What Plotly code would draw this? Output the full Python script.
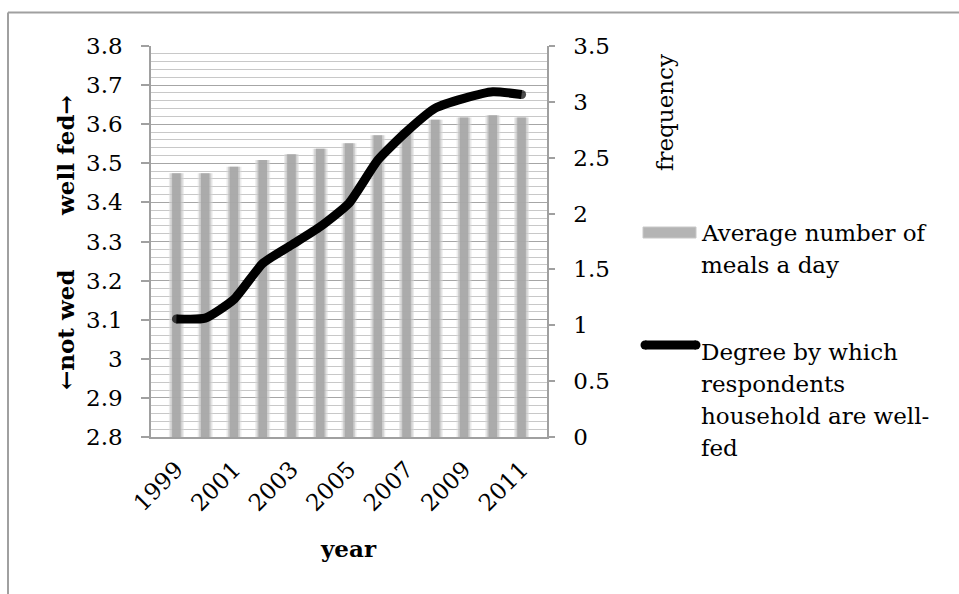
import plotly.graph_objects as go

# Survey years
years = [str(y) for y in range(1999, 2012)]

# Average number of meals a day (right axis, "frequency")
meals_per_day = [2.36, 2.36, 2.42, 2.48, 2.53, 2.58, 2.63, 2.70, 2.75, 2.84, 2.86, 2.88, 2.86]

# Degree by which respondents' households are well-fed (left axis)
well_fed_degree = [3.102, 3.104, 3.152, 3.244, 3.291, 3.338, 3.398, 3.508, 3.581, 3.641, 3.666, 3.683, 3.676]

year_ticks = years[::2]

FONT = "DejaVu Serif"
AXIS_GRAY = "#a0a0a0"
FS = 23

fig = go.Figure()

# Soft-edged bars: layered widths, lighter on the outside
for width, color in [(0.52, "rgba(215,215,215,0.5)"),
                     (0.42, "rgba(190,190,190,0.6)"),
                     (0.30, "rgba(165,165,165,0.85)")]:
    fig.add_trace(go.Bar(
        x=years, y=meals_per_day, width=width,
        marker=dict(color=color, line=dict(width=0)),
        yaxis="y", showlegend=False, hoverinfo="skip",
    ))

# Well-fed line with rounded ends
ends = [9] + [0] * (len(years) - 2) + [9]
fig.add_trace(go.Scatter(
    x=years, y=well_fed_degree, yaxis="y2",
    mode="lines+markers",
    line=dict(color="black", width=9, shape="spline", smoothing=0.5),
    marker=dict(size=ends, color="black", line=dict(width=0)),
    showlegend=False,
))

fig.update_layout(
    width=959, height=594, autosize=False,
    margin=dict(l=151, r=412, t=46, b=157),
    paper_bgcolor="white", plot_bgcolor="white",
    barmode="overlay",
    font=dict(family=FONT, size=FS, color="black"),
    xaxis=dict(
        type="category", tickmode="array", tickvals=year_ticks,
        tickangle=-45, showgrid=False, ticks="",
        showline=True, linecolor=AXIS_GRAY, linewidth=1.5,
        tickfont=dict(family=FONT, size=FS), ticklabelstandoff=8,
    ),
    yaxis=dict(
        side="right", range=[0, 3.5], dtick=0.5, tickmode="linear", tick0=0,
        showgrid=False, zeroline=False,
        ticks="outside", ticklen=6, tickcolor=AXIS_GRAY, tickwidth=1.5,
        showline=True, linecolor=AXIS_GRAY, linewidth=1.5,
        tickfont=dict(family=FONT, size=FS), ticklabelstandoff=14,
    ),
    yaxis2=dict(
        overlaying="y", side="left", range=[2.8, 3.8], dtick=0.1, tick0=2.8,
        tickmode="linear",
        showgrid=True, gridcolor="#a6a6a6", gridwidth=1.2, zeroline=False,
        minor=dict(dtick=0.02, tick0=2.8, showgrid=True, gridcolor="#c8c8c8",
                   gridwidth=1.2, ticks=""),
        ticks="outside", ticklen=8, tickcolor=AXIS_GRAY, tickwidth=1.5,
        showline=True, linecolor=AXIS_GRAY, linewidth=1.5,
        tickfont=dict(family=FONT, size=FS), ticklabelstandoff=14,
    ),
)

# Chart frame (paper coords relative to the plot area)
PX = lambda px: (px - 151) / 396.0
PY = lambda py: (437 - py) / 391.0
fig.add_shape(type="line", xref="paper", yref="paper",
              x0=PX(8), x1=PX(8), y0=PY(12.5), y1=PY(600),
              line=dict(color=AXIS_GRAY, width=2))
fig.add_shape(type="line", xref="paper", yref="paper",
              x0=PX(8), x1=PX(970), y0=PY(12.5), y1=PY(12.5),
              line=dict(color=AXIS_GRAY, width=2))

anns = []
# Left axis title in two parts
anns.append(dict(text="<b>well fed→</b>", x=PX(65), y=PY(156), textangle=-90))
anns.append(dict(text="<b>←not wed</b>", x=PX(65), y=PY(330), textangle=-90))
# Right axis title
anns.append(dict(text="frequency", x=PX(665), y=PY(113), textangle=-90))
# X axis title
anns.append(dict(text="<b>year</b>", x=PX(348), y=PY(548)))
for a in anns:
    a.update(xref="paper", yref="paper", showarrow=False,
             xanchor="center", yanchor="middle",
             font=dict(family=FONT, size=FS, color="black"))
    fig.add_annotation(**a)

# Legend
legend_lines = [
    ("Average number of", 233), ("meals a day", 265),
    ("Degree by which", 352), ("respondents", 384),
    ("household are well-", 416), ("fed", 448),
]
for txt, py in legend_lines:
    fig.add_annotation(text=txt, x=PX(699), y=PY(py), xref="paper", yref="paper",
                       showarrow=False, xanchor="left", yanchor="middle",
                       font=dict(family=FONT, size=FS, color="black"))

fig.add_shape(type="rect", xref="paper", yref="paper",
              x0=PX(643), x1=PX(696), y0=PY(238), y1=PY(227),
              fillcolor="#b4b4b4", line=dict(color="#c8c8c8", width=1))
fig.add_shape(type="line", xref="paper", yref="paper",
              x0=PX(645), x1=PX(696), y0=PY(345), y1=PY(345),
              line=dict(color="black", width=9))
for cx in (645, 696):
    fig.add_shape(type="circle", xref="paper", yref="paper",
                  x0=PX(cx - 4.5), x1=PX(cx + 4.5), y0=PY(349.5), y1=PY(340.5),
                  fillcolor="black", line=dict(width=0))

fig.write_html("out.html")
